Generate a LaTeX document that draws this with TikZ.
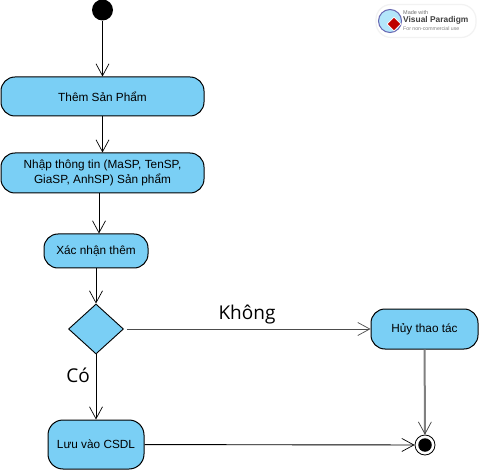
\documentclass[tikz,border=0pt]{standalone}
\usepackage{fontspec}
\setmainfont{Liberation Sans}
\newfontfamily\labelfont{Open Sans}
\usetikzlibrary{shapes.geometric,arrows.meta}
\definecolor{actfill}{HTML}{7ACFF5}
\definecolor{graythick}{HTML}{808080}
\tikzset{
  act/.style={draw=black,fill=actfill,rounded corners=14pt,line width=1pt,align=center,font=\fontsize{11.8}{15.5}\selectfont,inner sep=0pt},
  flow/.style={line width=0.9pt,-{Straight Barb[length=12pt,width=13pt,line width=0.7pt]}},
  lbl/.style={font=\labelfont\fontsize{19}{22}\selectfont,text=black,inner sep=0pt},
}
\begin{document}
\begin{tikzpicture}[x=1pt,y=-1pt]
\useasboundingbox[fill=white] (0,0) rectangle (479,470);
\node[circle,fill=black,minimum size=21pt,inner sep=0pt] (start) at (102.5,10) {};
\node[act,minimum width=203pt,minimum height=39pt] (add) at (102.5,96.5) {Thêm Sản Phẩm};
\node[act,minimum width=203pt,minimum height=40pt] (input) at (102.5,173) {Nhập thông tin (MaSP, TenSP,\\GiaSP, AnhSP) Sản phẩm};
\node[act,minimum width=104pt,minimum height=34pt] (confirm) at (96,251) {Xác nhận thêm};
\node[diamond,draw=black,fill=actfill,line width=0.9pt,minimum width=55pt,minimum height=50pt,inner sep=0pt] (dec) at (96,329) {};
\node[act,minimum width=96pt,minimum height=49pt,rounded corners=15pt] (save) at (96,444.5) {Lưu vào CSDL};
\node[act,minimum width=107pt,minimum height=40pt] (cancel) at (424.5,329) {Hủy thao tác};
\node[circle,draw=black,fill=white,line width=0.8pt,minimum size=20pt,inner sep=0pt] (end) at (425,445) {};
\node[circle,fill=black,minimum size=13.5pt,inner sep=0pt] (endin) at (425,445) {};
\coordinate (gapR) at (127,329);
\coordinate (c2) at (99,200);
\draw[flow] (start) -- (add);
\draw[flow] (add) -- (input.north -| add);
\draw[flow] (input.south -| c2) -- (confirm.north -| c2);
\draw[flow] (confirm) -- (dec);
\draw[flow] (dec) -- (save);
\draw[flow,line width=0.8pt,draw=black!70] (gapR) -- (cancel);
\draw[draw=graythick,line width=2pt,-{Straight Barb[length=12pt,width=13pt,line width=0.7pt,color=black!75]}] (cancel) -- (end);
\draw[flow] (save) -- (end);
\node[lbl] (no) at (247,315) {Không};
\node[lbl] (yes) at (78,375) {Có};
% watermark badge
\node[draw=black!5,line width=1.2pt,fill=white,rounded corners=15pt,minimum width=100pt,minimum height=33pt,inner sep=0pt] (badge) at (426,21) {};
\node[circle,draw=blue!50!black!60,fill=cyan!30,line width=1pt,minimum size=23pt,inner sep=0pt] (globe) at (390,21) {};
\node[diamond,fill=red!75!black,draw=white,line width=0.7pt,minimum size=14pt,inner sep=0pt] (gem) at (394,24) {};
\node[anchor=west,inner sep=0pt,font=\fontsize{5.5}{6}\selectfont,text=black!55] (made) at (403,13) {Made with};
\node[anchor=west,inner sep=0pt,font=\bfseries\fontsize{8.4}{10}\selectfont,text=black!75] (vp) at (403,20.5) {Visual Paradigm};
\node[anchor=west,inner sep=0pt,font=\fontsize{5.2}{6}\selectfont,text=black!50] (nc) at (403,29) {For non-commercial use};
\end{tikzpicture}
\end{document}
